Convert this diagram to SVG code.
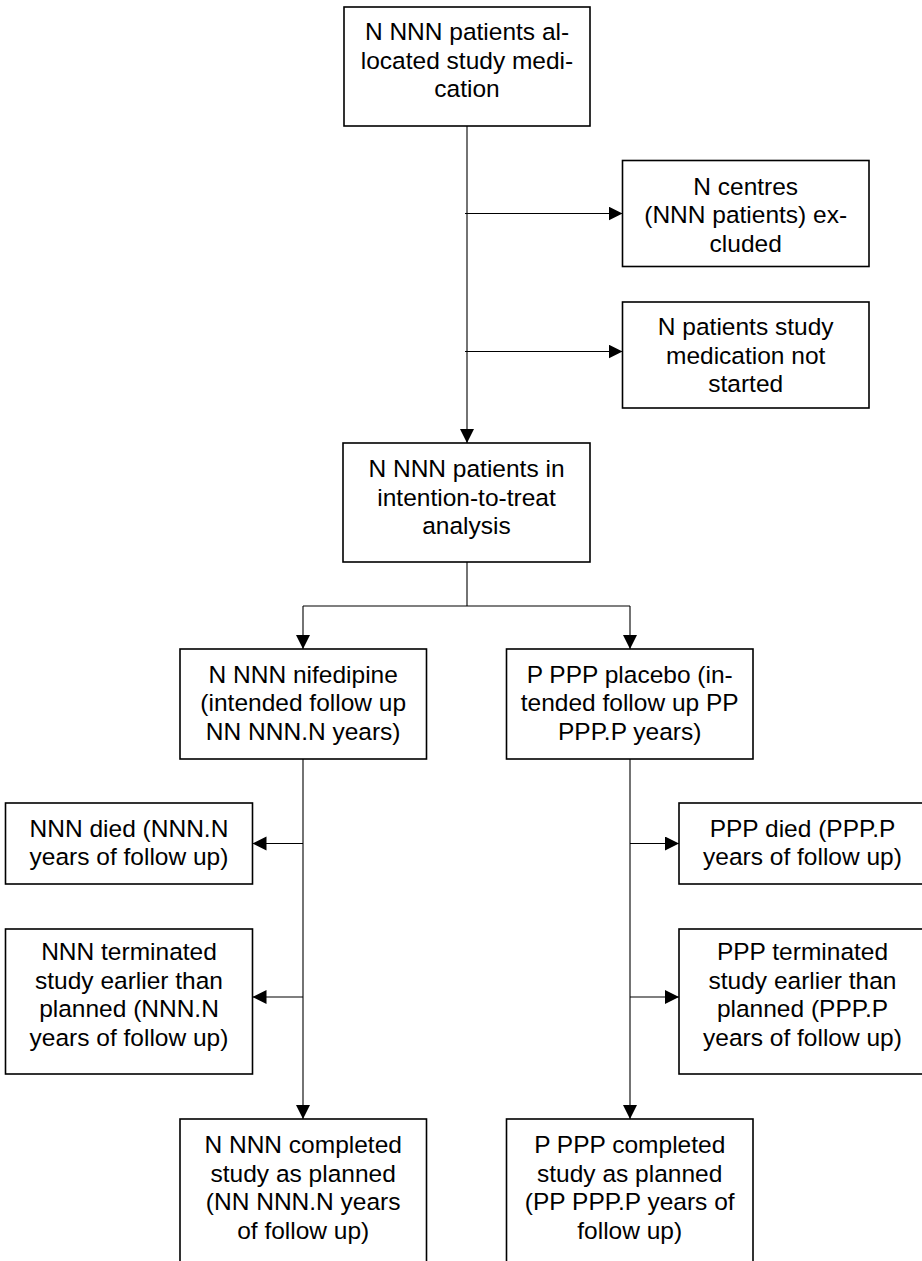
<svg xmlns="http://www.w3.org/2000/svg" width="922" height="1261" viewBox="0 0 922 1261">
<style>
.box{fill:#fff;stroke:#000;stroke-width:1.6}
.t{font-family:"Liberation Sans",Arial,sans-serif;font-size:24.5px;fill:#000;text-anchor:middle}
.c{fill:none;stroke:#000;stroke-width:1.1}
</style>
<defs>
<marker id="ah" markerUnits="userSpaceOnUse" markerWidth="15" markerHeight="15" refX="14" refY="7" orient="auto">
<path d="M0,0 L14,7 L0,14 z" fill="#000"/>
</marker>
</defs>
<rect width="922" height="1261" fill="#fff"/>
<g id="connectors">
<line class="c" x1="467" y1="126" x2="467" y2="443" marker-end="url(#ah)"/>
<line class="c" x1="465" y1="213.5" x2="622.5" y2="213.5" marker-end="url(#ah)"/>
<line class="c" x1="465" y1="351.5" x2="622.5" y2="351.5" marker-end="url(#ah)"/>
<line class="c" x1="467" y1="562" x2="467" y2="606"/>
<line class="c" x1="303" y1="606" x2="630" y2="606"/>
<line class="c" x1="303" y1="606" x2="303" y2="649" marker-end="url(#ah)"/>
<line class="c" x1="630" y1="606" x2="630" y2="649" marker-end="url(#ah)"/>
<line class="c" x1="303" y1="759" x2="303" y2="1119" marker-end="url(#ah)"/>
<line class="c" x1="630" y1="759" x2="630" y2="1119" marker-end="url(#ah)"/>
<line class="c" x1="303" y1="843.5" x2="252.5" y2="843.5" marker-end="url(#ah)"/>
<line class="c" x1="303" y1="997" x2="252.5" y2="997" marker-end="url(#ah)"/>
<line class="c" x1="630" y1="843.5" x2="679" y2="843.5" marker-end="url(#ah)"/>
<line class="c" x1="630" y1="997" x2="679" y2="997" marker-end="url(#ah)"/>
</g>
<g id="allocated">
<rect class="box" x="344" y="7" width="246" height="119"/>
<text class="t" x="467" y="40">N NNN patients al-</text>
<text class="t" x="467" y="68.7">located study medi-</text>
<text class="t" x="467" y="97.4">cation</text>
</g>
<g id="centres-excluded">
<rect class="box" x="622.5" y="160.5" width="246.5" height="106"/>
<text class="t" x="745.7" y="194.5">N centres</text>
<text class="t" x="745.7" y="223.2">(NNN patients) ex-</text>
<text class="t" x="745.7" y="251.9">cluded</text>
</g>
<g id="not-started">
<rect class="box" x="622.5" y="302" width="246.5" height="106"/>
<text class="t" x="745.7" y="335">N patients study</text>
<text class="t" x="745.7" y="363.7">medication not</text>
<text class="t" x="745.7" y="392.4">started</text>
</g>
<g id="itt">
<rect class="box" x="343" y="443" width="247" height="119"/>
<text class="t" x="466.5" y="477">N NNN patients in</text>
<text class="t" x="466.5" y="505.7">intention-to-treat</text>
<text class="t" x="466.5" y="534.4">analysis</text>
</g>
<g id="nifedipine">
<rect class="box" x="180" y="649" width="246.5" height="110"/>
<text class="t" x="303.2" y="682.5">N NNN nifedipine</text>
<text class="t" x="303.2" y="711.2">(intended follow up</text>
<text class="t" x="303.2" y="739.9">NN NNN.N years)</text>
</g>
<g id="placebo">
<rect class="box" x="506.5" y="649" width="246.5" height="110"/>
<text class="t" x="629.7" y="682.5">P PPP placebo (in-</text>
<text class="t" x="629.7" y="711.2">tended follow up PP</text>
<text class="t" x="629.7" y="739.9">PPP.P years)</text>
</g>
<g id="n-died">
<rect class="box" x="5.5" y="803" width="247" height="81"/>
<text class="t" x="129" y="836.5">NNN died (NNN.N</text>
<text class="t" x="129" y="865.2">years of follow up)</text>
</g>
<g id="n-terminated">
<rect class="box" x="5.5" y="929" width="247" height="145"/>
<text class="t" x="129" y="960">NNN terminated</text>
<text class="t" x="129" y="988.7">study earlier than</text>
<text class="t" x="129" y="1017.4">planned (NNN.N</text>
<text class="t" x="129" y="1046.1">years of follow up)</text>
</g>
<g id="p-died">
<rect class="box" x="679" y="803" width="247" height="81"/>
<text class="t" x="802.5" y="836.5">PPP died (PPP.P</text>
<text class="t" x="802.5" y="865.2">years of follow up)</text>
</g>
<g id="p-terminated">
<rect class="box" x="679" y="929" width="247" height="145"/>
<text class="t" x="802.5" y="960">PPP terminated</text>
<text class="t" x="802.5" y="988.7">study earlier than</text>
<text class="t" x="802.5" y="1017.4">planned (PPP.P</text>
<text class="t" x="802.5" y="1046.1">years of follow up)</text>
</g>
<g id="n-completed">
<rect class="box" x="180" y="1119" width="246.5" height="170"/>
<text class="t" x="303.2" y="1153">N NNN completed</text>
<text class="t" x="303.2" y="1181.7">study as planned</text>
<text class="t" x="303.2" y="1210.4">(NN NNN.N years</text>
<text class="t" x="303.2" y="1239.1">of follow up)</text>
</g>
<g id="p-completed">
<rect class="box" x="506.5" y="1119" width="246.5" height="170"/>
<text class="t" x="629.7" y="1153">P PPP completed</text>
<text class="t" x="629.7" y="1181.7">study as planned</text>
<text class="t" x="629.7" y="1210.4">(PP PPP.P years of</text>
<text class="t" x="629.7" y="1239.1">follow up)</text>
</g>
</svg>
